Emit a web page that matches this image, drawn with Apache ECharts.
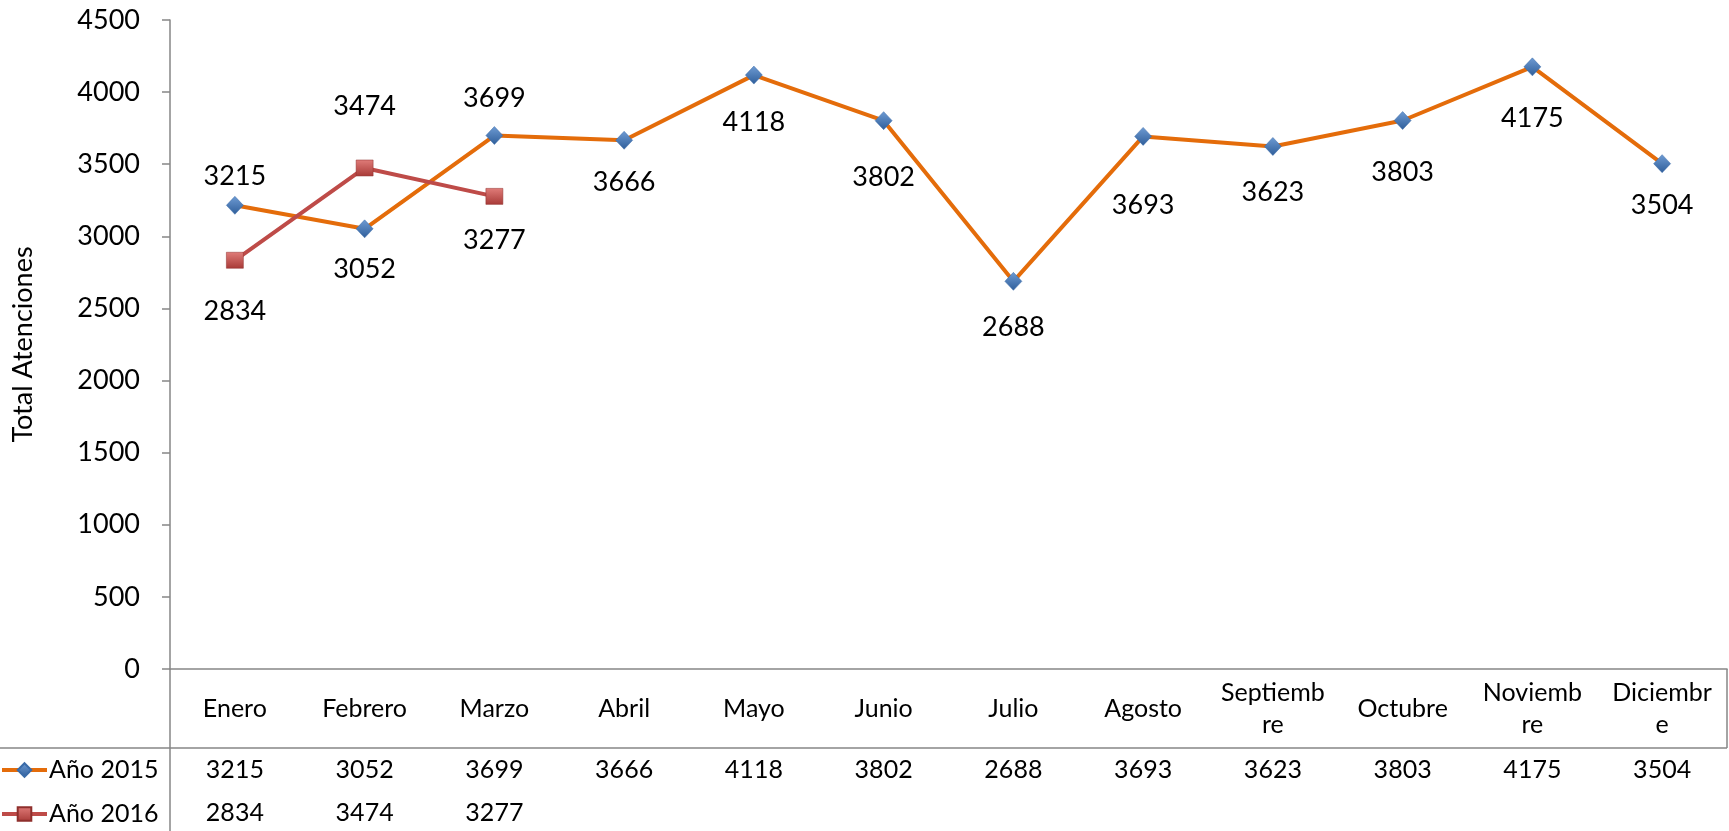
<!DOCTYPE html>
<html>
<head>
<meta charset="utf-8">
<script src="https://cdn.jsdelivr.net/npm/echarts@6/dist/echarts.min.js"></script>
<style>
  html, body { margin: 0; padding: 0; background: #fff; }
  #chart { width: 1729px; height: 831px; }
</style>
</head>
<body>
<div id="chart"></div>
<script>
// meses
var meses = ['Enero', 'Febrero', 'Marzo', 'Abril', 'Mayo', 'Junio', 'Julio',
             'Agosto', 'Septiembre', 'Octubre', 'Noviembre', 'Diciembre'];
// totales por año
var anio2015 = [3215, 3052, 3699, 3666, 4118, 3802, 2688, 3693, 3623, 3803, 4175, 3504];
var anio2016 = [2834, 3474, 3277];
var nombres = ['Año 2015', 'Año 2016'];
var yTicks = { min: 0, max: 4500, interval: 500 };

// desplazamiento vertical de las etiquetas (px)
var desp2015 = [-29, 40, -37, 42, 47, 57, 46, 69, 46, 52, 51, 42];
var desp2016 = [51, -62, 44];

var FONT = 'Lato';
var TABLA_PX = 25;
var chart = echarts.init(document.getElementById('chart'));

// ancho de columna para que el texto corte como en la hoja (Septiemb|re, Noviemb|re, Diciembr|e)
var ctx = document.createElement('canvas').getContext('2d');
ctx.font = TABLA_PX + 'px ' + FONT;
var anchoCorte = (Math.max(ctx.measureText('Septiemb').width, ctx.measureText('Diciembr').width) +
                  Math.min(ctx.measureText('Noviembr').width, ctx.measureText('Septiembr').width)) / 2;

function filaTexto(arr) {
    return meses.map(function (m, i) { return arr[i] == null ? '' : String(arr[i]); });
}

function conEtiquetas(arr, desp) {
    return arr.map(function (v, i) {
        return { value: v, label: { offset: [0, desp[i]] } };
    });
}

var ejeFila = function (data, offset) {
    return {
        type: 'category',
        gridIndex: 0,
        position: 'bottom',
        offset: offset,
        data: data,
        axisLine: { show: false },
        axisTick: { show: false },
        axisLabel: {
            interval: 0,
            margin: 0,
            verticalAlign: 'middle',
            color: '#000',
            fontFamily: FONT,
            fontSize: TABLA_PX,
            lineHeight: 32,
            width: anchoCorte,
            overflow: 'breakAll'
        }
    };
};

var leyenda = function (nombre, top) {
    return {
        left: 0,
        top: top,
        padding: 0,
        itemWidth: 45,
        itemHeight: 17,
        lineStyle: { width: 4 },
        textStyle: { color: '#000', fontSize: TABLA_PX, fontFamily: FONT, lineHeight: 26, padding: [0, 0, 0, -3] },
        data: [nombre]
    };
};

var option = {
    animation: false,
    textStyle: { fontFamily: FONT },
    grid: { left: 170, right: 2, top: 20, bottom: 162 },
    legend: [leyenda(nombres[0], 757), leyenda(nombres[1], 801)],
    xAxis: [
        {
            type: 'category',
            data: meses,
            axisLine: { lineStyle: { color: '#868686', width: 1.5 } },
            axisTick: { show: false },
            axisLabel: { show: false }
        },
        ejeFila(meses, 40),
        ejeFila(filaTexto(anio2015), 101),
        ejeFila(filaTexto(anio2016), 144)
    ],
    yAxis: {
        type: 'value',
        min: yTicks.min,
        max: yTicks.max,
        interval: yTicks.interval,
        name: 'Total Atenciones',
        nameLocation: 'middle',
        nameGap: 133,
        nameTextStyle: { color: '#000', fontSize: 27, fontFamily: FONT },
        axisLine: { show: true, lineStyle: { color: '#868686', width: 1.5 } },
        axisTick: { show: true, length: 8, lineStyle: { color: '#868686', width: 1.5 } },
        splitLine: { show: false },
        axisLabel: {
            color: '#000', fontSize: 27, fontFamily: FONT, margin: 30,
            formatter: function (v) { return String(v); }
        }
    },
    series: [
        {
            name: nombres[0],
            type: 'line',
            data: conEtiquetas(anio2015, desp2015),
            symbol: 'diamond',
            symbolSize: [17, 18],
            lineStyle: { color: '#E46C0A', width: 4 },
            itemStyle: {
                color: new echarts.graphic.LinearGradient(0, 0, 0, 1, [
                    { offset: 0, color: '#6E9BD3' },
                    { offset: 1, color: '#2F5E9A' }
                ]),
                borderColor: '#3A6BA8',
                borderWidth: 0.5
            },
            label: {
                show: true,
                position: 'inside',
                color: '#000',
                fontSize: 27,
                fontFamily: FONT
            },
            z: 3
        },
        {
            name: nombres[1],
            type: 'line',
            data: conEtiquetas(anio2016, desp2016),
            symbol: 'rect',
            symbolSize: [17, 16],
            lineStyle: { color: '#BE4B48', width: 4 },
            itemStyle: {
                color: new echarts.graphic.LinearGradient(0, 0, 0, 1, [
                    { offset: 0, color: '#E07C79' },
                    { offset: 1, color: '#A83A37' }
                ]),
                borderColor: '#8E2F2C',
                borderWidth: 0.5
            },
            label: {
                show: true,
                position: 'inside',
                color: '#000',
                fontSize: 27,
                fontFamily: FONT
            },
            z: 4
        }
    ],
    graphic: [
        // bordes de la tabla de datos
        { type: 'line', shape: { x1: 0, y1: 748, x2: 1727, y2: 748 }, style: { stroke: '#868686', lineWidth: 1.5 } },
        { type: 'line', shape: { x1: 170, y1: 669, x2: 170, y2: 831 }, style: { stroke: '#868686', lineWidth: 1.5 } },
        { type: 'line', shape: { x1: 1727, y1: 669, x2: 1727, y2: 748 }, style: { stroke: '#868686', lineWidth: 1.5 } }
    ]
};

chart.setOption(option);
</script>
</body>
</html>
